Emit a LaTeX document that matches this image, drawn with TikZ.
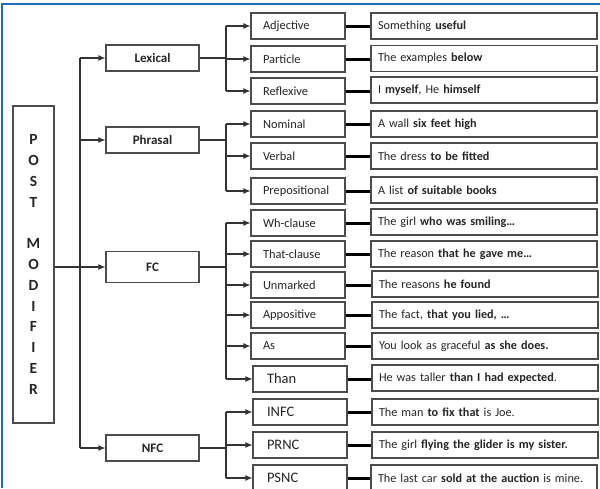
\documentclass[tikz,border=0pt]{standalone}
\usepackage{fontspec}
\setmainfont{Carlito}
\usepackage{tikz}
\usetikzlibrary{arrows.meta}
\definecolor{frameblue}{RGB}{28,108,186}

\begin{document}
\begin{tikzpicture}[x=1pt,y=-1pt,line width=1.1pt,
  box/.style={draw=black!70,fill=white,line width=1.1pt,minimum height=26pt,inner sep=0pt,text=black!85},
  head/.style={box,minimum width=93pt,font=\bfseries\fontsize{13}{15}\selectfont},
  kind/.style={box,minimum width=94pt,text width=70pt,align=left,font=\fontsize{12.4}{14}\selectfont},
  bigkind/.style={kind,text width=66pt,font=\fontsize{14.5}{16}\selectfont},
  ex/.style={box,minimum width=226pt,text width=212pt,align=left,font=\fontsize{12.2}{14}\selectfont},
  wire/.style={black!80,line width=1.1pt},
  arr/.style={wire,-{Latex[length=7pt,width=6pt]}},
  link/.style={black,line width=3pt}]
\useasboundingbox (0,0) rectangle (600,488);
\draw[frameblue,line width=2pt] (600,4) -- (2,4) -- (2,488);

% left column
\node[box,minimum width=41pt,minimum height=317pt,align=center,
  font=\bfseries\fontsize{15.5}{20.8}\selectfont] (post) at (33.5,264.5)
  {P\\O\\S\\T\\~\\M\\O\\D\\I\\F\\I\\E\\R};

\node[head] (lex) at (152.5,58) {Lexical};
\node[head] (phr) at (152.5,140) {Phrasal};
\node[head,minimum height=31pt] (fc) at (152.5,267) {FC};
\node[head] (nfc) at (152.5,448) {NFC};

\coordinate (trunk) at (80,0);
\coordinate (fork) at (226,0);

\draw[wire] (lex.west -| trunk) -- (nfc.west -| trunk);
\draw[arr] (lex.west -| trunk) -- (lex.west);
\draw[arr] (phr.west -| trunk) -- (phr.west);
\draw[arr] (post.east |- fc.west) -- (fc.west);
\draw[arr] (nfc.west -| trunk) -- (nfc.west);

% kinds
\node[kind] (adj) at (298,26) {Adjective};
\node[kind] (par) at (298,59) {Particle};
\node[kind] (ref) at (298,91) {Reflexive};
\node[kind] (nom) at (298,124) {Nominal};
\node[kind] (verb) at (298,156) {Verbal};
\node[kind] (prep) at (298,191) {Prepositional};
\node[kind] (wh) at (298,223) {Wh-clause};
\node[kind] (that) at (298,254) {That-clause};
\node[kind] (unm) at (298,285) {Unmarked};
\node[kind] (app) at (298,315) {Appositive};
\node[kind] (as) at (298,346) {As};
\node[bigkind] (than) at (300,379) {Than};
\node[bigkind] (infc) at (300,412) {INFC};
\node[bigkind] (prnc) at (300,445) {PRNC};
\node[bigkind] (psnc) at (300,478) {PSNC};

% lexical
\draw[wire] (lex.east) -- (lex.east -| fork);
\draw[wire] (adj.west -| fork) -- (ref.west -| fork);
\draw[arr] (adj.west -| fork) -- (adj.west);
\draw[arr] (par.west -| fork) -- (par.west);
\draw[arr] (ref.west -| fork) -- (ref.west);
% phrasal
\draw[wire] (phr.east) -- (phr.east -| fork);
\draw[wire] (nom.west -| fork) -- (prep.west -| fork);
\draw[arr] (nom.west -| fork) -- (nom.west);
\draw[arr] (verb.west -| fork) -- (verb.west);
\draw[arr] (prep.west -| fork) -- (prep.west);
% fc
\draw[wire] (fc.east) -- (fc.east -| fork);
\draw[wire] (wh.west -| fork) -- (than.west -| fork);
\draw[arr] (wh.west -| fork) -- (wh.west);
\draw[arr] (that.west -| fork) -- (that.west);
\draw[arr] (unm.west -| fork) -- (unm.west);
\draw[arr] (app.west -| fork) -- (app.west);
\draw[arr] (as.west -| fork) -- (as.west);
\draw[arr] (than.west -| fork) -- (than.west);
% nfc
\draw[wire] (nfc.east) -- (nfc.east -| fork);
\draw[wire] (infc.west -| fork) -- (psnc.west -| fork);
\draw[arr] (infc.west -| fork) -- (infc.west);
\draw[arr] (prnc.west -| fork) -- (prnc.west);
\draw[arr] (psnc.west -| fork) -- (psnc.west);

% examples
\node[ex] (e1) at (484,26) {Something \textbf{useful}};
\node[ex] (e2) at (484,58.5) {The examples \textbf{below}};
\node[ex] (e3) at (484,90) {I \textbf{myself}, He \textbf{himself}};
\node[ex] (e4) at (484,124) {A wall \textbf{six feet high}};
\node[ex] (e5) at (484,156) {The dress \textbf{to be fitted}};
\node[ex] (e6) at (484,190) {A list \textbf{of suitable books}};
\node[ex] (e7) at (484,222) {The girl \textbf{who was smiling\dots}};
\node[ex] (e8) at (484,254) {The reason \textbf{that he gave me\dots}};
\node[ex] (e9) at (485,284) {The reasons \textbf{he found}};
\node[ex] (e10) at (485,315) {The fact, \textbf{that you lied, \dots}};
\node[ex] (e11) at (485,346) {You look as graceful \textbf{as she does.}};
\node[ex] (e12) at (485,378) {He was taller \textbf{than I had expected}.};
\node[ex] (e13) at (485,412) {The man \textbf{to fix that} is Joe.};
\node[ex] (e14) at (485,445) {The girl \textbf{flying the glider is my sister.}};
\node[ex] (e15) at (484,478) {The last car \textbf{sold at the auction} is mine.};

\draw[link] (adj.east) -- (adj.east -| e1.west); %1
\draw[link] (par.east) -- (par.east -| e2.west); %2
\draw[link] (ref.east) -- (ref.east -| e3.west); %3
\draw[link] (nom.east) -- (nom.east -| e4.west); %4
\draw[link] (verb.east) -- (verb.east -| e5.west); %5
\draw[link] (prep.east) -- (prep.east -| e6.west); %6
\draw[link] (wh.east) -- (wh.east -| e7.west); %7
\draw[link] (that.east) -- (that.east -| e8.west); %8
\draw[link] (unm.east) -- (unm.east -| e9.west); %9
\draw[link] (app.east) -- (app.east -| e10.west); %10
\draw[link] (as.east) -- (as.east -| e11.west); %11
\draw[link] (than.east) -- (than.east -| e12.west); %12
\draw[link] (infc.east) -- (infc.east -| e13.west); %13
\draw[link] (prnc.east) -- (prnc.east -| e14.west); %14
\draw[link] (psnc.east) -- (psnc.east -| e15.west); %15
\end{tikzpicture}
\end{document}
